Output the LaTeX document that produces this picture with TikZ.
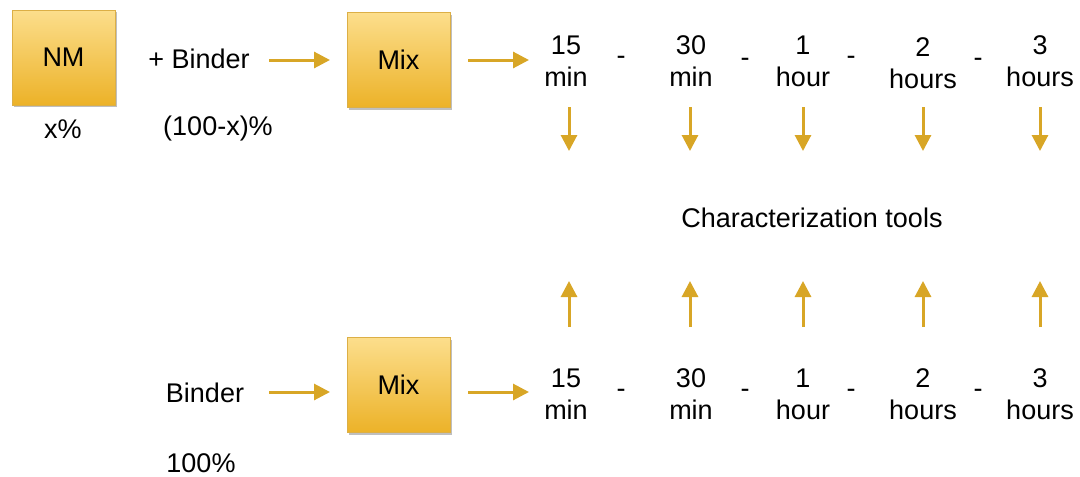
\documentclass[tikz,border=0pt]{standalone}
\usepackage{fontspec}
\setmainfont{Liberation Sans}
\usetikzlibrary{arrows.meta,shadows}
\definecolor{gold}{RGB}{216,166,38}
\definecolor{boxtop}{RGB}{252,222,140}
\definecolor{boxbot}{RGB}{236,178,40}
\definecolor{boxline}{RGB}{220,175,70}
\tikzset{
  mixbox/.style={draw=boxline, line width=0.6pt, top color=boxtop, bottom color=boxbot,
    minimum width=103pt, minimum height=95pt, inner sep=0pt,
    drop shadow={shadow xshift=1.5pt, shadow yshift=-2pt, fill=black, opacity=0.25},
    font=\fontsize{27}{27}\selectfont},
  lbl/.style={inner sep=0pt, font=\fontsize{27}{27}\selectfont},
  tlbl/.style={inner sep=0pt, align=center, font=\fontsize{27}{32}\selectfont},
  flow/.style={draw=gold, line width=3pt, -{Triangle[length=16pt,width=16pt]}},
}
\begin{document}
\begin{tikzpicture}[x=1pt,y=-1pt]
\useasboundingbox (0,0) rectangle (1080,477);
% upper row
\node[mixbox] (nm) at (63.5,57.5) {NM};
\node[lbl] (nmp) at (63,129) {x\%};
\node[lbl] (b1) at (199,59) {+ Binder};
\node[lbl] (b1p) at (218,129) {(100-x)\%};
\node[mixbox] (mix1) at (398.5,60) {Mix};
\coordinate (a1s) at (269,60);
\coordinate (a1e) at (330,60);
\draw[flow] (a1s) -- (a1e);
\coordinate (a2s) at (468,60);
\coordinate (a2e) at (529,60);
\draw[flow] (a2s) -- (a2e);
\node[tlbl] (t1) at (566,61) {15\\min};
\node[tlbl] (t2) at (691,61) {30\\min};
\node[tlbl] (t3) at (803,61) {1\\hour};
\node[tlbl] (t4) at (923,63) {2\\hours};
\node[tlbl] (t5) at (1040,61) {3\\hours};
\node[lbl] (d1) at (621,60) {-};
\node[lbl] (d2) at (745,62) {-};
\node[lbl] (d3) at (851,60) {-};
\node[lbl] (d4) at (978,62) {-};
% characterization
\node[lbl] (ct) at (812,218) {Characterization tools};
% lower row
\node[lbl] (b2) at (205,393) {Binder};
\node[lbl] (b2p) at (201,463) {100\%};
\node[mixbox] (mix2) at (398.5,385) {Mix};
\coordinate (a3s) at (269,392);
\coordinate (a3e) at (330,392);
\draw[flow] (a3s) -- (a3e);
\coordinate (a4s) at (468,392);
\coordinate (a4e) at (529,392);
\draw[flow] (a4s) -- (a4e);
\node[tlbl] (u1) at (566,394) {15\\min};
\node[tlbl] (u2) at (691,394) {30\\min};
\node[tlbl] (u3) at (803,394) {1\\hour};
\node[tlbl] (u4) at (923,394) {2\\hours};
\node[tlbl] (u5) at (1040,394) {3\\hours};
\node[lbl] (e1) at (621,393) {-};
\node[lbl] (e2) at (745,393) {-};
\node[lbl] (e3) at (851,393) {-};
\node[lbl] (e4) at (978,393) {-};
% vertical arrows
\foreach \x/\n in {569/1,690/2,803/3,923/4,1040/5}{
  \coordinate (dn\n s) at (\x,107);
  \coordinate (dn\n e) at (\x,151);
  \draw[flow] (dn\n s) -- (dn\n e);
  \coordinate (up\n s) at (\x,327);
  \coordinate (up\n e) at (\x,281);
  \draw[flow] (up\n s) -- (up\n e);
}
\end{tikzpicture}
\end{document}
